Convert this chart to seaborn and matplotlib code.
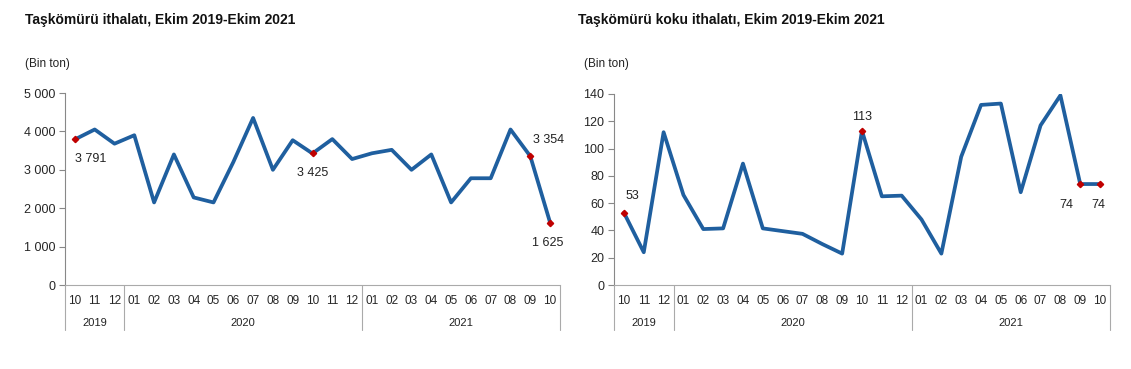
import numpy as np
import pandas as pd
import seaborn as sns
import matplotlib.pyplot as plt
from matplotlib.ticker import FuncFormatter

# Veriler (Bin ton)
aylar = ['10', '11', '12', '01', '02', '03', '04', '05', '06', '07', '08', '09',
         '10', '11', '12', '01', '02', '03', '04', '05', '06', '07', '08', '09', '10']
yillar = ['2019', '2020', '2021']
yil_ay_sayisi = [3, 12, 10]

taskomuru = [3791, 4050, 3680, 3900, 2150, 3400, 2280, 2150, 3200, 4350, 3000, 3770,
             3425, 3800, 3280, 3430, 3520, 3000, 3400, 2150, 2780, 2780, 4050, 3354, 1625]
koku = [53, 24, 112, 66, 41, 41.5, 89, 41.5, 39.5, 37.5, 30, 23,
        113, 65, 65.5, 48, 23, 94, 132, 133, 68, 117, 139, 74, 74]

sol_etiketler = {0: (0, -14, '3 791', 'left'), 12: (0, -14, '3 425', 'center'),
                 23: (2, 12, '3 354', 'left'), 24: (-2, -15, '1 625', 'center')}
sag_etiketler = {0: (1, 12, '53', 'left'), 12: (0, 10, '113', 'center'),
                 23: (-5, -15, '74', 'right'), 24: (-1, -15, '74', 'center')}

sns.set_style('white')
plt.rcParams['font.family'] = ['Liberation Sans', 'DejaVu Sans']

mavi = '#1f5f9f'
kirmizi = '#c00000'

fig = plt.figure(figsize=(11.31, 3.69), dpi=100)
ax1 = fig.add_axes([65 / 1131, 1 - 285 / 369, 495 / 1131, 192 / 369])
ax2 = fig.add_axes([614 / 1131, 1 - 285 / 369, 496 / 1131, 191 / 369])


def ciz(ax, degerler, ymax, adim, etiketler, binlik):
    df = pd.DataFrame({'x': np.arange(len(degerler)), 'deger': degerler})
    sns.lineplot(data=df, x='x', y='deger', ax=ax, color=mavi, linewidth=2.7)
    for i, (dx, dy, metin, ha) in etiketler.items():
        ax.plot(i, degerler[i], marker='D', color=kirmizi, markersize=3.2, zorder=5)
        ax.annotate(metin, (i, degerler[i]), xytext=(dx, dy), textcoords='offset points',
                    ha=ha, va='center', fontsize=9, color='#222222')
    ax.set_xlim(-0.5, len(degerler) - 0.5)
    ax.set_ylim(0, ymax)
    ax.set_yticks(np.arange(0, ymax + 1, adim))
    if binlik:
        ax.yaxis.set_major_formatter(FuncFormatter(lambda v, p: f'{int(v):,}'.replace(',', ' ')))
    ax.set_xticks(np.arange(len(degerler)))
    ax.set_xticklabels(aylar, fontsize=8.5, fontstretch='condensed')
    ax.tick_params(axis='x', length=0, pad=7)
    ax.tick_params(axis='y', length=4, width=0.8, color='#888888', labelsize=9, pad=3, left=True)
    ax.set_xlabel('')
    ax.set_ylabel('')
    for s in ['top', 'right']:
        ax.spines[s].set_visible(False)
    ax.spines['left'].set_color('#888888')
    ax.spines['bottom'].set_color('#aaaaaa')
    ax.spines['left'].set_linewidth(0.8)
    ax.spines['bottom'].set_linewidth(0.8)
    # yil ayiricilari ve yil etiketleri
    sinir = -0.5
    ayiricilar = [sinir]
    for yil, n in zip(yillar, yil_ay_sayisi):
        orta = sinir + n / 2
        ax.text(orta, -0.2, yil, transform=ax.get_xaxis_transform(), ha='center',
                va='center', fontsize=8, fontstretch='condensed', color='#222222')
        sinir += n
        ayiricilar.append(sinir)
    for a in ayiricilar:
        ax.plot([a, a], [0, -0.235], transform=ax.get_xaxis_transform(), color='#aaaaaa',
                linewidth=0.8, clip_on=False)


ciz(ax1, taskomuru, 5000, 1000, sol_etiketler, True)
ciz(ax2, koku, 140, 20, sag_etiketler, False)

fig.text(25 / 1131, 1 - 20 / 369, 'Taşkömürü ithalatı, Ekim 2019-Ekim 2021',
         fontsize=10, fontweight='bold', va='center', ha='left', color='#111111')
fig.text(25 / 1131, 1 - 64 / 369, '(Bin ton)', fontsize=8.5, va='center', ha='left', color='#222222')
fig.text(578 / 1131, 1 - 20 / 369, 'Taşkömürü koku ithalatı, Ekim 2019-Ekim 2021',
         fontsize=10, fontweight='bold', va='center', ha='left', color='#111111')
fig.text(584 / 1131, 1 - 64 / 369, '(Bin ton)', fontsize=8.5, va='center', ha='left', color='#222222')

fig.savefig('out.png', dpi=100)
